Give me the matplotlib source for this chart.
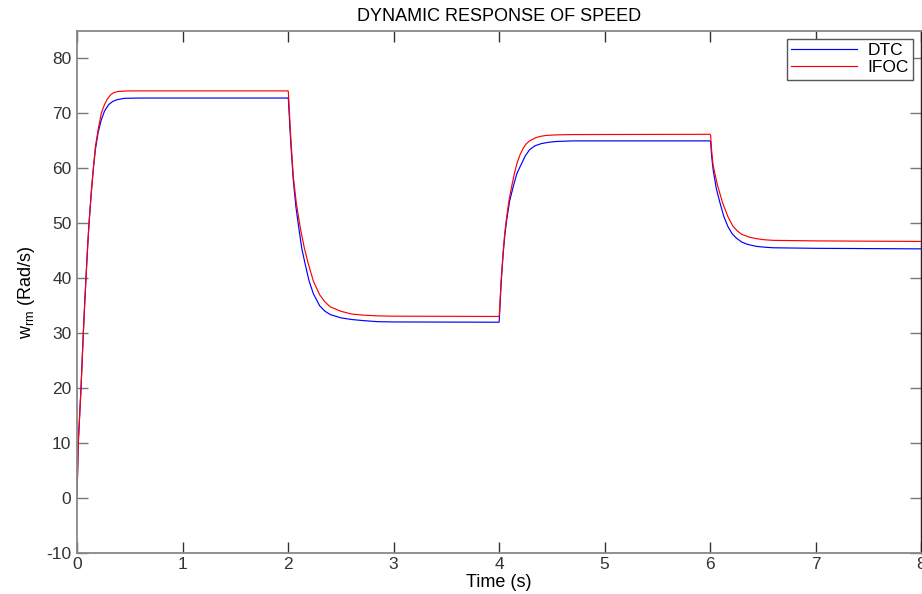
import matplotlib
matplotlib.use("Agg")
import matplotlib.pyplot as plt

plt.rcParams['font.family'] = ['Liberation Sans', 'DejaVu Sans']
plt.rcParams['mathtext.fontset'] = 'custom'
plt.rcParams['mathtext.rm'] = 'Liberation Sans'
plt.rcParams['mathtext.it'] = 'Liberation Sans'
plt.rcParams['axes.unicode_minus'] = False

# values (time in s, speed in rad/s)
t_dtc = [0, 0.012, 0.025, 0.038, 0.05, 0.06, 0.072, 0.085, 0.1, 0.114, 0.135, 0.155, 0.175,
         0.2, 0.23, 0.26, 0.3, 0.34, 0.38, 0.45, 0.6, 1.0, 2.0,
         2.003, 2.025, 2.05, 2.075, 2.105, 2.13, 2.16, 2.2, 2.24, 2.3, 2.35, 2.4, 2.5, 2.6,
         2.71, 2.85, 3.0, 4.0,
         4.003, 4.02, 4.04, 4.055, 4.073, 4.1, 4.135, 4.17, 4.215, 4.25, 4.29, 4.34, 4.4,
         4.47, 4.55, 4.7, 6.0,
         6.006, 6.015, 6.03, 6.06, 6.095, 6.13, 6.17, 6.21, 6.25, 6.3, 6.35, 6.44, 6.52,
         6.6, 6.8, 7.0, 8.0]
w_dtc = [0, 10, 15, 20, 25.5, 30, 35, 40, 45.5, 50, 55.5, 60, 63.5,
         66.5, 68.8, 70.4, 71.6, 72.2, 72.5, 72.75, 72.8, 72.8, 72.8,
         72.8, 65.0, 57.9, 53.0, 48.8, 45.5, 42.8, 39.5, 37.2, 35.0, 34.0, 33.4, 32.8, 32.5,
         32.3, 32.1, 32.05, 32.0,
         32.5, 39.0, 44.6, 47.8, 50.6, 54.0, 56.7, 59.1, 60.9, 62.3, 63.4, 64.1, 64.5,
         64.75, 64.9, 65.0, 65.0,
         64.8, 62.3, 59.7, 56.3, 53.7, 51.3, 49.4, 48.1, 47.3, 46.6, 46.2, 45.8, 45.65,
         45.55, 45.5, 45.45, 45.35]

t_ifoc = [0, 0.012, 0.025, 0.038, 0.05, 0.06, 0.072, 0.085, 0.1, 0.114, 0.135, 0.155, 0.175,
          0.2, 0.23, 0.26, 0.29, 0.32, 0.35, 0.39, 0.5, 1.0, 2.0,
          2.003, 2.025, 2.05, 2.08, 2.12, 2.155, 2.19, 2.24, 2.3, 2.35, 2.4, 2.5, 2.6,
          2.71, 2.85, 3.0, 4.0,
          4.003, 4.02, 4.04, 4.055, 4.073, 4.095, 4.12, 4.145, 4.17, 4.2, 4.23, 4.26, 4.29,
          4.35, 4.4, 4.45, 4.55, 4.7, 6.0,
          6.006, 6.015, 6.03, 6.07, 6.12, 6.17, 6.22, 6.26, 6.3, 6.37, 6.44, 6.52, 6.6,
          6.8, 7.0, 8.0]
w_ifoc = [0, 10, 15, 20, 25.5, 30, 35, 40, 45.5, 50, 55.5, 60, 64,
          67.0, 70.0, 71.6, 72.7, 73.4, 73.8, 74.0, 74.1, 74.1, 74.1,
          74.0, 66.0, 58.5, 53.5, 48.8, 45.5, 42.8, 39.5, 37.0, 35.7, 34.8, 34.0, 33.5,
          33.3, 33.15, 33.1, 33.05,
          33.3, 39.5, 45.0, 48.3, 51.2, 54.2, 56.7, 59.0, 60.9, 62.5, 63.7, 64.5, 65.0,
          65.6, 65.85, 66.0, 66.1, 66.15, 66.2,
          66.0, 63.3, 60.5, 57.0, 53.7, 51.2, 49.4, 48.6, 48.0, 47.5, 47.2, 47.0, 46.9,
          46.85, 46.8, 46.7]

fig = plt.figure(figsize=(9.22, 5.94), dpi=100)
ax = fig.add_axes([77 / 922, 41 / 594, 844 / 922, 522 / 594])

ax.plot(t_dtc, w_dtc, color='#0000ff', lw=0.85, label='DTC')
ax.plot(t_ifoc, w_ifoc, color='#ff0000', lw=0.85, label='IFOC')

ax.set_xlim(0, 8)
ax.set_ylim(-10, 85)
ax.set_xticks(range(0, 9))
ax.set_yticks(range(-10, 90, 10))

for s in ax.spines.values():
    s.set_color('#888888')
    s.set_linewidth(1.3)
ax.spines['right'].set_color('#222222')
ax.spines['right'].set_linewidth(1.0)

ax.tick_params(direction='in', length=8, width=1.0, colors='#333333',
               top=True, right=True, labelsize=12.5, pad=4)
ax.tick_params(axis='x', pad=3)
ax.tick_params(axis='y', colors='#777777', labelcolor='#333333')

ax.set_title('DYNAMIC RESPONSE OF SPEED', fontsize=13, pad=7)
ax.set_xlabel('Time (s)', fontsize=13, labelpad=1)
ax.set_ylabel(r'w$_{\mathrm{rm}}$ (Rad/s)', fontsize=13, labelpad=7)

leg = ax.legend(loc='upper right', fontsize=12.5, fancybox=False, framealpha=1,
                edgecolor='#555555', handlelength=3.8, borderpad=0.25,
                labelspacing=0.1, borderaxespad=0.45, handletextpad=0.6)
leg.get_frame().set_linewidth(1.0)

fig.savefig('out.png', dpi=100)
